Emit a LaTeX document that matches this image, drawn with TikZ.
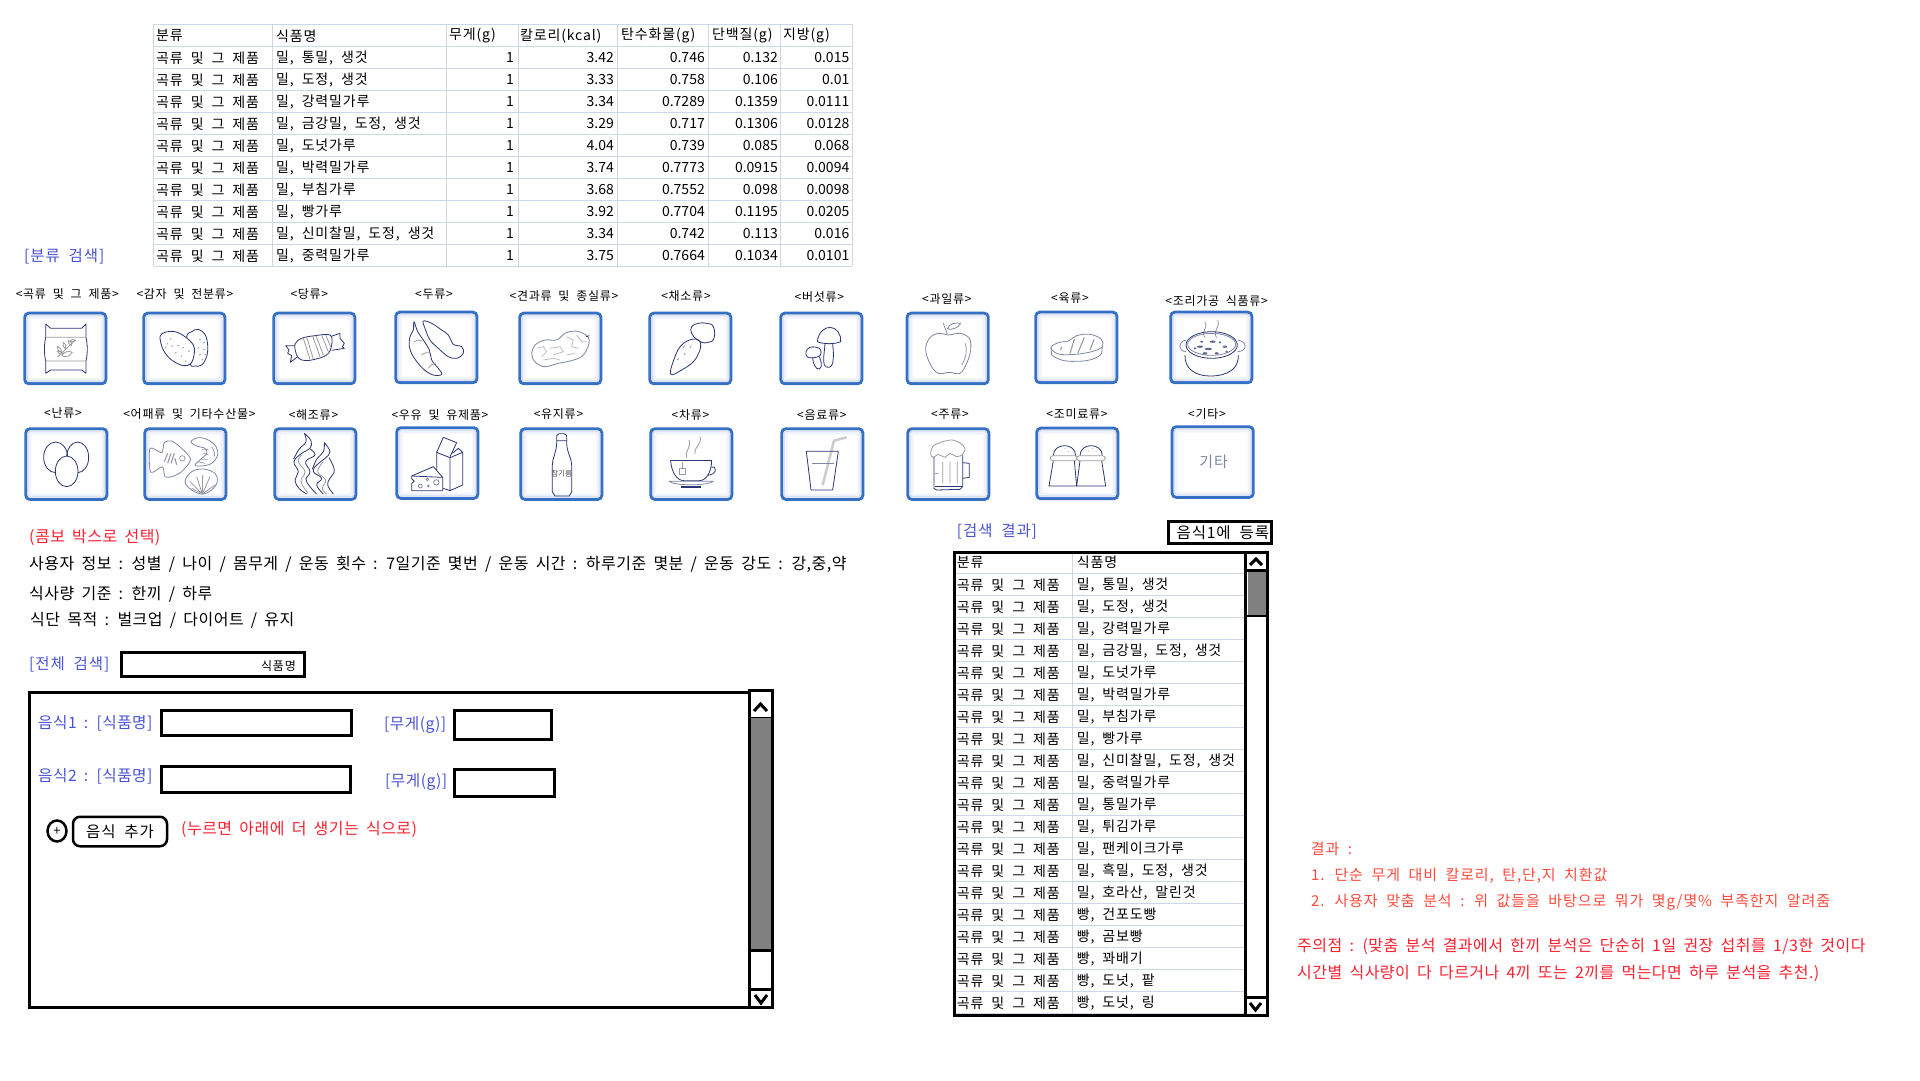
\documentclass[tikz,border=0pt]{standalone}
\usepackage{fontspec}
\usetikzlibrary{shapes.geometric}
\setmainfont{Noto Sans CJK KR}
\newfontfamily\krs{Noto Sans CJK KR}[LetterSpace=6,WordSpace=2]
\newfontfamily\krb{Noto Sans CJK KR}[LetterSpace=3,WordSpace=1.78]
\newfontfamily\krn{Noto Sans CJK KR}
\newcommand\fs[1]{\fontsize{#1}{#1}\selectfont}
\definecolor{boxblue}{HTML}{3670C4}
\definecolor{glowa}{HTML}{DCE4F6}
\definecolor{glowb}{HTML}{F0F3FB}
\definecolor{navyline}{HTML}{2A3672}
\definecolor{softline}{HTML}{7F86A6}
\definecolor{grayline}{HTML}{9A9AA2}
\definecolor{gridline}{HTML}{CDD7E6}
\definecolor{labblue}{HTML}{4A52D6}
\definecolor{labred}{HTML}{FF2030}
\definecolor{softred}{HTML}{FF4A3C}
\tikzset{
  cellw/.style={anchor=west,inner sep=0pt,yshift=-.8pt,font=\krs\fs{14}},
  celle/.style={anchor=east,inner sep=0pt,font=\krn\fs{14}},
  iconlabel/.style={inner sep=0pt,yshift=-.5pt,font=\krs\fs{12}},
  bluetext/.style={anchor=west,inner sep=0pt,yshift=-.8pt,text=labblue,font=\krs\fs{15.5}},
  bluesmall/.style={anchor=west,inner sep=0pt,yshift=-.8pt,text=labblue,font=\krb\fs{15.7}},
  redtext/.style={anchor=west,inner sep=0pt,yshift=-.8pt,text=labred,font=\krb\fs{16}},
  softredtext/.style={anchor=west,inner sep=0pt,yshift=-.8pt,text=softred,font=\krs\fs{15}},
  blacktext/.style={anchor=west,inner sep=0pt,yshift=-.8pt,font=\krb\fs{16}},
  iconbox/.style={rectangle,rounded corners=4pt,draw=boxblue,line width=3pt,fill=white,inner sep=0pt,outer sep=0pt,minimum width=81pt,minimum height=70.5pt,anchor=north west},
  heavy/.style={draw=black,line width=3pt,fill=white},
  caret/.style={draw=black,line width=3pt},
  ic/.style={draw=navyline,line width=.8pt,line join=round},
  ics/.style={draw=softline,line width=.8pt,line join=round},
  icg/.style={draw=grayline,line width=.8pt,line join=round},
  grid/.style={draw=gridline,line width=1pt},
  cropscope/.style={x=.33333pt,y=-.33333pt}
}
\newcommand\ibox[3]{%
  \node[iconbox] (#1) at ({#2+1.5},{#3+1.5}) {};
  \draw[glowa,line width=2pt,rounded corners=2pt] ([shift={(2.5,2.5)}]#1.north west) rectangle ([shift={(-2.5,-2.5)}]#1.south east);
  \draw[glowb,line width=2pt,rounded corners=2pt] ([shift={(4.5,4.5)}]#1.north west) rectangle ([shift={(-4.5,-4.5)}]#1.south east);
}
\newcommand\leaf[4]{\draw[icg] (#1,#2) to[bend left=45] (#3,#4) to[bend left=45] (#1,#2);}
\begin{document}
\begin{tikzpicture}[x=1pt,y=-1pt]
\useasboundingbox (0,0) rectangle (1920,1080);
\fill[white] (0,0) rectangle (1920,1080);

% ---- top table ----
\foreach \k in {0,...,11} \draw[grid] (153.5,{24.3+22*\k}) -- (852,{24.3+22*\k});
\foreach \cx in {153.5,272.5,446,518,617,708,780,852} \draw[grid] (\cx,24.3) -- (\cx,266.3);
\node[cellw] (h1) at (156,35) {분류};
\node[cellw] (h2) at (276,35) {식품명};
\node[cellw] (h3) at (449,35) {무게(g)};
\node[cellw] (h4) at (520,35) {칼로리(kcal)};
\node[cellw] (h5) at (621,35) {탄수화물(g)};
\node[cellw] (h6) at (712,35) {단백질(g)};
\node[cellw] (h7) at (783,35) {지방(g)};
\foreach \i/\nm/\kc/\cb/\pr/\fa in {
 0/{밀, 통밀, 생것}/3.42/0.746/0.132/0.015,
 1/{밀, 도정, 생것}/3.33/0.758/0.106/0.01,
 2/{밀, 강력밀가루}/3.34/0.7289/0.1359/0.0111,
 3/{밀, 금강밀, 도정, 생것}/3.29/0.717/0.1306/0.0128,
 4/{밀, 도넛가루}/4.04/0.739/0.085/0.068,
 5/{밀, 박력밀가루}/3.74/0.7773/0.0915/0.0094,
 6/{밀, 부침가루}/3.68/0.7552/0.098/0.0098,
 7/{밀, 빵가루}/3.92/0.7704/0.1195/0.0205,
 8/{밀, 신미찰밀, 도정, 생것}/3.34/0.742/0.113/0.016,
 9/{밀, 중력밀가루}/3.75/0.7664/0.1034/0.0101}{
  \node[cellw] (ta\i) at (156,{57.3+22*\i}) {곡류 및 그 제품};
  \node[cellw] (tb\i) at (276,{57.3+22*\i}) {\nm};
  \node[celle] (tc\i) at (514,{57.3+22*\i}) {1};
  \node[celle] (td\i) at (614,{57.3+22*\i}) {\kc};
  \node[celle] (te\i) at (705,{57.3+22*\i}) {\cb};
  \node[celle] (tf\i) at (778,{57.3+22*\i}) {\pr};
  \node[celle] (tg\i) at (849.5,{57.3+22*\i}) {\fa};
}
\node[bluetext] (catsearch) at (24,256) {[분류 검색]};

% ---- icon labels ----
\foreach \i/\lx/\ly/\tx in {
 1/67.3/293/{<곡류 및 그 제품>},2/185/293/{<감자 및 전분류>},3/309.3/293.7/{<당류>},4/434/294/{<두류>},5/564/295.7/{<견과류 및 종실류>},
 6/686/295.7/{<채소류>},7/819.4/297/{<버섯류>},8/946.8/298/{<과일류>},9/1070/298/{<육류>},10/1216.6/300.7/{<조리가공 식품류>},
 11/63/412.3/{<난류>},12/189.4/414/{<어패류 및 기타수산물>},13/313.5/414.7/{<해조류>},14/440/414/{<우유 및 유제품>},15/558.5/413.7/{<유지류>},
 16/690.5/414.3/{<차류>},17/821.8/414.7/{<음료류>},18/950/413.7/{<주류>},19/1077/413.7/{<조미료류>},20/1207/413.3/{<기타>}}{
  \node[iconlabel] (lab\i) at (\lx,\ly) {\tx};
}

% ---- icon boxes ----
\ibox{ib1}{23.3}{311.7}\ibox{ib2}{142.3}{311.7}\ibox{ib3}{272.3}{311.7}\ibox{ib4}{394.3}{310.7}\ibox{ib5}{518.3}{311.7}
\ibox{ib6}{648.3}{311.7}\ibox{ib7}{779.3}{311.7}\ibox{ib8}{905.7}{311.7}\ibox{ib9}{1034.3}{310.7}\ibox{ib10}{1169.3}{310.7}
\ibox{ib11}{24.3}{427.3}\ibox{ib12}{143.3}{427.3}\ibox{ib13}{273.3}{427.3}\ibox{ib14}{395.3}{426.3}\ibox{ib15}{519.3}{427.3}
\ibox{ib16}{649.3}{427.3}\ibox{ib17}{780.3}{427.3}\ibox{ib18}{906.3}{427.3}\ibox{ib19}{1035.3}{426.7}\ibox{ib20}{1170.7}{425.3}

% ---- row 1, first four ----
\begin{scope}[shift={(15,305)},cropscope]
 % bag
 \draw[ic] (92,57) -- (107,70) -- (200,70) -- (213,57) -- (213,97) .. controls (218,120) and (218,145) .. (213,168) -- (213,205) -- (200,195) -- (107,195) -- (92,205) -- (92,168) .. controls (87,145) and (87,120) .. (92,97) -- cycle;
 \draw[icg] (92,97) -- (213,97) (92,168) -- (213,168) (128,156) -- (178,108);
 \leaf{126}{138}{146}{146}\leaf{127}{124}{140}{143}\leaf{145}{112}{152}{132}\leaf{160}{106}{170}{122}\leaf{165}{108}{182}{106}\leaf{140}{152}{172}{142}
 % potatoes
 \draw[ic,fill=white] plot[smooth cycle,tension=.6] coordinates {(515,97) (530,80) (550,73) (570,88) (578,120) (575,155) (560,180) (540,183) (525,175)};
 \draw[ic,fill=white] plot[smooth cycle,tension=.6] coordinates {(435,95) (450,82) (480,80) (510,95) (535,120) (538,145) (528,175) (505,182) (470,165) (445,135)};
 \foreach \a/\b in {455/118,470/125,487/123,502/130,480/145,497/155,510/170,465/103,450/128,520/140,553/105,565/115,548/130,565/135,553/150,570/150,560/165}
   \draw[icg] (\a,\b) -- ++(4,-3);
 % candy
 \draw[ic] (840,122) -- (812,122) -- (822,135) -- (818,145) -- (830,152) -- (826,172) -- (848,155);
 \draw[ic] (945,95) -- (975,85) -- (975,100) -- (988,115) -- (982,125) -- (988,130) -- (950,136);
 \draw[ic,fill=white] plot[smooth cycle,tension=.6] coordinates {(840,118) (860,100) (900,92) (945,90) (950,120) (935,150) (890,165) (860,165) (845,150)};
 \draw[icg] (865,100) -- (885,163) (875,97) -- (895,162) (893,93) -- (915,155) (903,92) -- (925,150) (920,90) -- (940,140) (932,90) -- (947,125);
 % soybeans
 \draw[ic] plot[smooth cycle,tension=.6] coordinates {(1197,50) (1208,80) (1225,105) (1243,135) (1250,165) (1270,190) (1280,208) (1255,210) (1225,192) (1195,155) (1183,125) (1185,95) (1195,75)};
 \draw[ic] plot[smooth cycle,tension=.6] coordinates {(1225,48) (1250,55) (1280,75) (1300,90) (1315,118) (1340,125) (1345,145) (1325,160) (1300,155) (1270,130) (1245,105) (1230,70)};
 \draw[icg] (1197,110) to[bend left=30] (1222,108) (1220,150) to[bend left=30] (1248,145) (1240,190) to[bend left=30] (1262,175);
\end{scope}

% ---- row 1, next four ----
\begin{scope}[shift={(510,305)},cropscope]
 % peanut
 \draw[ics] plot[smooth cycle,tension=.6] coordinates {(65,145) (75,120) (105,105) (140,105) (165,85) (195,78) (225,88) (238,105) (232,130) (215,155) (180,168) (145,175) (105,185) (80,175) (68,160)};
 \draw[draw=black!25,line width=.8pt] (80,130) -- (100,125) -- (110,140) -- (95,155) (120,130) -- (150,125) -- (160,140) -- (130,150) (170,95) -- (190,105) -- (185,125) -- (205,130) (200,90) -- (215,110) -- (230,110) (100,165) -- (130,160) -- (150,165) (170,150) -- (195,145);
 \draw[ic] (228,95) -- (238,92);
 % carrot
 \draw[ic] plot[smooth cycle,tension=.7] coordinates {(572,118) (565,105) (545,103) (515,120) (495,155) (482,207) (515,195) (550,170) (568,140)};
 \draw[ic] plot[smooth cycle,tension=.8] coordinates {(560,103) (545,85) (545,65) (565,55) (590,55) (610,65) (612,100) (595,112) (575,112)};
 \draw[icg] (518,130) -- (524,122) (502,165) -- (506,160) (522,150) -- (526,144) (540,128) -- (544,122);
 % mushrooms
 \draw[ic] (922,110) .. controls (925,80) and (945,67) .. (960,67) .. controls (980,67) and (995,90) .. (992,110) .. controls (975,118) and (940,118) .. (922,110);
 \draw[ic] (945,117) .. controls (943,145) and (938,165) .. (943,180) .. controls (950,192) and (965,188) .. (968,175) .. controls (972,155) and (970,135) .. (968,117);
 \draw[ic] plot[smooth cycle,tension=.7] coordinates {(888,140) (900,127) (920,127) (932,135) (930,152) (910,158) (892,156)};
 \draw[ic] (908,158) .. controls (908,175) and (918,195) .. (928,192) .. controls (940,185) and (932,165) .. (928,155);
 % apple
 \draw[ics] plot[smooth cycle,tension=.6] coordinates {(1247,135) (1258,100) (1285,85) (1315,90) (1350,85) (1378,100) (1382,135) (1370,175) (1350,205) (1318,202) (1285,205) (1262,180)};
 \draw[ics] (1300,55) -- (1312,88);
 \draw[ics] (1312,72) .. controls (1318,55) and (1335,52) .. (1352,55) .. controls (1345,70) and (1325,75) .. (1312,72);
 \draw[icg] (1366,115) .. controls (1372,140) and (1368,160) .. (1355,180);
\end{scope}

% ---- row 2, first four ----
\begin{scope}[shift={(15,420)},cropscope]
 % eggs
 \draw[ic] (122,112) ellipse [x radius=36,y radius=46];
 \draw[ic] (188,112) ellipse [x radius=33,y radius=46];
 \draw[ic,fill=white] (155,154) ellipse [x radius=34,y radius=46];
 % fish
 \draw[ics] plot[smooth cycle,tension=.45] coordinates {(440,98) (448,68) (470,63) (500,85) (527,118) (500,155) (470,170) (450,170) (442,140) (407,157) (405,85)};
 \draw[icg,line width=1.1pt] (448,125) -- (458,100) (458,130) -- (468,100) (468,130) -- (478,100) (485,135) -- (480,115);
 \draw[icg] (502,115) circle [radius=8];
 % shrimp
 \draw[ics] plot[smooth cycle,tension=.6] coordinates {(528,65) (550,53) (580,60) (603,80) (608,105) (590,130) (560,138) (540,135) (555,120) (575,100) (570,85) (545,78)};
 \draw[icg] (560,90) -- (580,88) (565,100) -- (580,105) (558,118) -- (578,118) (548,125) -- (570,130) (590,80) to[bend left=20] (598,110);
 % shell
 \draw[ics] plot[smooth cycle,tension=.6] coordinates {(510,185) (530,155) (565,147) (600,160) (607,185) (590,210) (562,222) (530,210)};
 \draw[icg] (562,222) -- (525,185) (562,222) -- (545,170) (562,222) -- (563,165) (562,222) -- (585,170) (562,222) -- (600,195) (562,222) -- (530,205);
 % seaweed
 \draw[ic] plot[smooth,tension=.7] coordinates {(868,40) (888,62) (885,85) (860,100) (837,125) (850,155) (840,180) (852,205) (875,222)};
 \draw[ic] plot[smooth,tension=.7] coordinates {(868,40) (873,65) (852,88) (836,118)};
 \draw[ic] plot[smooth,tension=.7] coordinates {(885,87) (900,105) (872,125) (885,155) (873,178) (885,200) (905,222)};
 \draw[ic] plot[smooth,tension=.7] coordinates {(928,68) (945,95) (930,115) (905,135) (895,155) (920,175) (905,195) (925,222)};
 \draw[ic] plot[smooth,tension=.7] coordinates {(928,68) (925,95) (905,118) (892,148)};
 \draw[ic] plot[smooth,tension=.7] coordinates {(942,113) (958,150) (945,175) (938,195) (955,222)};
 \draw[icg] plot[smooth,tension=.7] coordinates {(860,105) (850,125) (870,155) (858,185) (880,220)};
 \draw[icg] plot[smooth,tension=.7] coordinates {(925,125) (908,155) (932,180) (922,205) (935,222)};
 % carton and cheese
 \draw[ic] (1265,150) -- (1265,97) -- (1305,113) -- (1305,212) -- (1343,195) -- (1343,97) -- (1305,113);
 \draw[ic] (1285,205) -- (1305,212);
 \draw[ic] (1265,97) -- (1285,52) -- (1325,68) -- (1305,110);
 \draw[ic] (1312,100) -- (1330,85) -- (1343,97);
 \draw[ic,fill=white] (1190,168) -- (1255,140) -- (1283,172) -- (1283,212) -- (1190,212) -- (1190,190) -- (1198,184) -- (1190,176) -- cycle;
 \draw[ic] (1190,168) -- (1283,172);
 \draw[ics] (1237,178) circle [radius=4] (1264,187) circle [radius=8] (1216,198) circle [radius=6] (1240,198) circle [radius=3];
\end{scope}

% ---- row 2, next four ----
\begin{scope}[shift={(510,420)},cropscope]
 % bottle
 \draw[ic] (140,62) -- (140,47) -- (147,41) -- (163,41) -- (170,47) -- (170,62) -- cycle;
 \draw[ic] (140,62) -- (140,72) .. controls (138,100) and (127,115) .. (127,135) -- (127,215) -- (135,228) -- (178,228) -- (185,215) -- (185,135) .. controls (185,115) and (172,100) .. (170,72) -- (170,62);
 \node[inner sep=0pt,text=black!70,font=\krn\fs{7.5}] (oil) at (155,162) {참기름};
 % cup
 \draw[icg] (530,113) .. controls (522,95) and (545,85) .. (537,60) (555,102) .. controls (548,85) and (578,72) .. (570,50);
 \draw[ic] (480,122) -- (607,122);
 \draw[ic] (482,122) .. controls (484,155) and (500,182) .. (522,182) -- (568,182) .. controls (590,182) and (604,155) .. (605,122);
 \draw[ic] (604,142) .. controls (622,135) and (622,165) .. (592,166);
 \draw[ics] (477,184) -- (610,184) .. controls (590,198) and (497,198) .. (477,184) -- cycle;
 \draw[ic,line width=1.4pt] (512,201) -- (574,201);
 \draw[icg] (507,145) rectangle (527,162) (517,125) -- (517,145);
 % glass
 \draw[draw=black!20,line width=2.5pt] (938,195) -- (972,62) -- (1010,52);
 \draw[ic] (889,94) -- (985,94) -- (968,210) -- (903,210) -- cycle;
 \draw[ics] (906,130) -- (972,130);
 % beer
 \draw[icg,fill=white] plot[smooth cycle,tension=.8] coordinates {(1262,100) (1268,80) (1285,70) (1310,62) (1335,62) (1362,80) (1360,100) (1340,110) (1320,100) (1305,112) (1285,103) (1270,112)};
 \draw[ic] (1272,110) -- (1272,205) -- (1280,210) -- (1350,208) -- (1358,200) -- (1358,105);
 \draw[ic] (1358,128) -- (1378,130) -- (1378,172) -- (1358,175);
 \draw[ic] (1275,198) -- (1355,198);
 \draw[icg] (1298,125) -- (1298,190) (1320,125) -- (1320,190) (1342,125) -- (1342,190) (1272,162) -- (1285,160);
\end{scope}

% ---- right column ----
\begin{scope}[shift={(1025,305)},cropscope]
 % steak
 \draw[ics] (78,128) -- (80,150) .. controls (100,165) and (120,170) .. (150,169) .. controls (190,170) and (220,160) .. (230,145) -- (232,125);
 \draw[ics] plot[smooth cycle,tension=.6] coordinates {(78,128) (100,113) (130,108) (155,92) (195,88) (228,102) (232,125) (200,140) (150,148) (100,147)};
 \draw[icg,line width=1.1pt] (135,145) -- (148,102) (158,145) -- (178,97) (195,135) -- (207,103) (107,135) -- (110,125);
 % stew pot
 \draw[icg] (540,50) .. controls (552,65) and (525,80) .. (540,98) (578,45) .. controls (590,60) and (560,80) .. (575,98);
 \draw[ic] (480,150) .. controls (478,190) and (510,213) .. (555,213) .. controls (610,213) and (642,190) .. (640,150);
 \draw[ics,fill=white] (483,105) .. controls (458,110) and (458,138) .. (483,140);
 \draw[ics,fill=white] (638,105) .. controls (668,110) and (668,138) .. (638,140);
 \draw[ic] (560,120) ellipse [x radius=77,y radius=40];
 \draw[ics] (560,118) ellipse [x radius=72,y radius=33];
 \foreach \a/\b/\ra in {525/125/9,550/132/11,563/110/9,600/125/7,530/110/5,575/145/6,540/145/7,605/140/4,585/112/4,510/130/4}
   \fill[navyline!75] (\a,\b) ellipse [x radius=\ra,y radius=3.5];
 % shakers
 \draw[ic] (85,452) .. controls (85,412) and (152,412) .. (152,452);
 \draw[ic] (165,452) .. controls (165,412) and (232,412) .. (232,452);
 \draw[ic] (85,467) -- (72,543) -- (155,543) -- (148,467);
 \draw[ic] (165,467) -- (155,543) -- (242,543) -- (230,467);
 \draw[icg,fill=white,rounded corners=3pt] (75,452) rectangle (158,467);
 \draw[icg,fill=white,rounded corners=3pt] (155,452) rectangle (241,467);
 \foreach \a/\b in {108/438,120/430,130/440,190/438,203/430,213/440} \fill[grayline] (\a,\b) circle [radius=1.5];
 \node[inner sep=0pt,text=softline,font=\krs\fs{15}] (etc) at (566,472) {기타};
\end{scope}

% ---- combo text ----
\node[redtext] (combo) at (29,536.7) {(콤보 박스로 선택)};
\node[blacktext] (userinfo) at (29,564) {사용자 정보 : 성별 / 나이 / 몸무게 / 운동 횟수 : 7일기준 몇번 / 운동 시간 : 하루기준 몇분 / 운동 강도 : 강,중,약};
\node[blacktext] (meal) at (29,594) {식사량 기준 : 한끼 / 하루};
\node[blacktext] (goal) at (30,620) {식단 목적 : 벌크업 / 다이어트 / 유지};
\node[bluetext] (allsearch) at (29,664) {[전체 검색]};
\draw[heavy] (121.5,652.5) rectangle (304.5,676.5);
\node[anchor=east,inner sep=0pt,font=\krs\fs{12}] (foodname) at (296,665.5) {식품명};

% ---- big panel ----
\draw[heavy] (29.5,692.5) rectangle (770.5,1007);
\draw[heavy] (749.5,690.5) rectangle (772,718);
\fill[gray] (749.5,718) rectangle (772,950);
\draw[draw=black,line width=3pt] (749.5,718) -- (749.5,950) -- (772,950) -- (772,718);
\draw[heavy] (749.5,950) rectangle (772,989);
\draw[heavy] (749.5,989) rectangle (772,1007);
\draw[caret] (754,711) -- (760.5,704) -- (767,711);
\draw[caret] (755,995) -- (761,1003) -- (767,995);

\node[bluesmall] (f1) at (38,722.7) {음식1 : [식품명]};
\draw[heavy] (161.5,710.5) rectangle (351.5,735.5);
\node[bluesmall] (w1) at (384,724) {[무게(g)]};
\draw[heavy] (454.5,710.5) rectangle (551.5,739.2);
\node[bluesmall] (f2) at (38,775.7) {음식2 : [식품명]};
\draw[heavy] (161,766.5) rectangle (350.5,792.5);
\node[bluesmall] (w2) at (385,780.7) {[무게(g)]};
\draw[heavy] (454.5,769.5) rectangle (554.5,796.5);
\node[draw=black,line width=2.5pt,ellipse,minimum width=19pt,minimum height=21pt,inner sep=0pt,font=\krn\fs{13}] (plusmark) at (57,831) {+};
\node[draw=black,line width=2.5pt,rounded corners=7pt,minimum width=94pt,minimum height=29.5pt,inner sep=0pt,outer sep=0pt,font=\krs\fs{15.5}] (addfood) at (120,831.5) {음식 추가\hspace{6pt}};
\node[redtext] (hint) at (181,829) {(누르면 아래에 더 생기는 식으로)};

% ---- result list ----
\node[bluetext] (reshead) at (956.7,530.7) {[검색 결과]};
\node[draw=black,line width=3pt,minimum width=103.3pt,minimum height=22pt,inner sep=0pt,outer sep=0pt,font=\krs\fs{15.5}] (reg) at (1219.8,532.5) {\hspace{6pt}음식1에 등록};
\draw[heavy] (954.5,552) rectangle (1267.5,1015);
\foreach \k in {0,...,20} \draw[grid] (956,{573.3+22*\k}) -- (1244,{573.3+22*\k});
\draw[grid] (1072,553.5) -- (1072,1013.5);
\node[cellw] (lh1) at (956.7,561.7) {분류};
\node[cellw] (lh2) at (1076.7,561.7) {식품명};
\foreach \i/\nm in {0/{밀, 통밀, 생것},1/{밀, 도정, 생것},2/{밀, 강력밀가루},3/{밀, 금강밀, 도정, 생것},4/{밀, 도넛가루},5/{밀, 박력밀가루},6/{밀, 부침가루},7/{밀, 빵가루},8/{밀, 신미찰밀, 도정, 생것},9/{밀, 중력밀가루},10/{밀, 통밀가루},11/{밀, 튀김가루},12/{밀, 팬케이크가루},13/{밀, 흑밀, 도정, 생것},14/{밀, 호라산, 말린것},15/{빵, 건포도빵},16/{빵, 곰보빵},17/{빵, 꽈배기},18/{빵, 도넛, 팥},19/{빵, 도넛, 링}}{
  \node[cellw] (la\i) at (956.7,{584+22*\i}) {곡류 및 그 제품};
  \node[cellw] (lb\i) at (1076.7,{584+22*\i}) {\nm};
}
\fill[gray] (1247.5,571.7) rectangle (1266,615.5);
\draw[draw=black,line width=3pt] (1245.8,552) -- (1245.8,1015);
\draw[draw=black,line width=2.5pt] (1246,570.5) -- (1266,570.5);
\draw[draw=black,line width=2pt] (1246,616) -- (1266,616);
\draw[draw=black,line width=3pt] (1246,997) -- (1266,997);
\draw[caret] (1250,565) -- (1256,559) -- (1262,565);
\draw[caret] (1250,1003) -- (1255.5,1010) -- (1261,1003);

% ---- notes ----
\node[softredtext] (res0) at (1310.6,848) {결과 :};
\node[softredtext] (res1) at (1311,875) {1. 단순 무게 대비 칼로리, 탄,단,지 치환값};
\node[softredtext] (res2) at (1311,901.7) {2. 사용자 맞춤 분석 : 위 값들을 바탕으로 뭐가 몇g/몇\% 부족한지 알려줌};
\node[redtext] (warn1) at (1297,946) {주의점 : (맞춤 분석 결과에서 한끼 분석은 단순히 1일 권장 섭취를 1/3한 것이다};
\node[redtext] (warn2) at (1297,972.7) {시간별 식사량이 다 다르거나 4끼 또는 2끼를 먹는다면 하루 분석을 추천.)};
\end{tikzpicture}
\end{document}
